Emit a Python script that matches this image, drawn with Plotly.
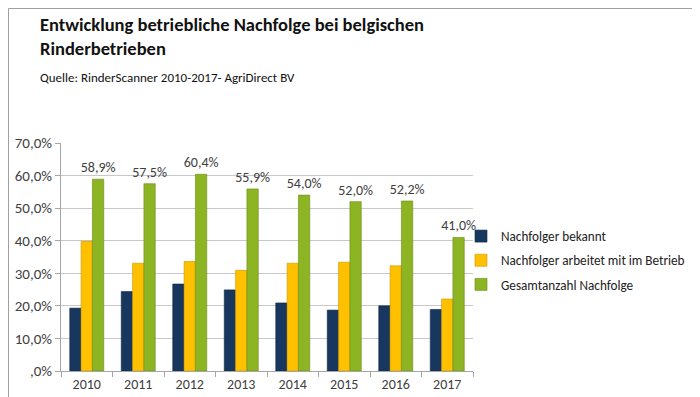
import plotly.graph_objects as go

years = ["2010", "2011", "2012", "2013", "2014", "2015", "2016", "2017"]
bekannt = [19.3, 24.4, 26.7, 24.9, 20.9, 18.7, 20.0, 18.9]
arbeitet = [39.8, 33.1, 33.6, 30.9, 33.1, 33.4, 32.3, 22.1]
gesamt = [58.9, 57.5, 60.4, 55.9, 54.0, 52.0, 52.2, 41.0]
names = ["Nachfolger bekannt", "Nachfolger arbeitet mit im Betrieb", "Gesamtanzahl Nachfolge"]
tick_vals = [0, 10, 20, 30, 40, 50, 60, 70]
tick_text = [",0%", "10,0%", "20,0%", "30,0%", "40,0%", "50,0%", "60,0%", "70,0%"]

FONT = "Carlito, Calibri, sans-serif"
W, H = 700, 397
L, R, T, B = 53, 235, 135, 34
PW, PH = W - L - R, H - T - B

fig = go.Figure()
fig.add_bar(x=years, y=bekannt, name=names[0], legendgroup="a",
            marker=dict(color="#17375E", line=dict(color="#0F2745", width=0.6)))
fig.add_bar(x=years, y=arbeitet, name=names[1], legendgroup="b",
            marker=dict(color="#FFC000", line=dict(color="#C99700", width=0.6)))
fig.add_bar(x=years, y=gesamt, name=names[2], legendgroup="c",
            marker=dict(color="#8DB523", line=dict(color="#6A8A15", width=0.6)),
            text=gesamt, texttemplate="%{y:.1f}%", textposition="outside",
            constraintext="none",
            textfont=dict(size=14, color="#404040", family=FONT), cliponaxis=False)

fig.update_layout(
    width=W, height=H,
    margin=dict(l=L, r=R, t=T, b=B, autoexpand=False),
    paper_bgcolor="white", plot_bgcolor="white",
    separators=",.",
    barmode="group", bargap=0.34, bargroupgap=0,
    font=dict(family=FONT, color="#404040", size=14),
    showlegend=True,
    legend=dict(x=(453 - L) / PW, y=(H - B - 213) / PH, xanchor="left", yanchor="top",
                tracegroupgap=4, traceorder="grouped",
                font=dict(size=13.2, color="#222222", family=FONT),
                itemwidth=30, bgcolor="rgba(0,0,0,0)"),
    xaxis=dict(type="category", showline=True, linecolor="#A6A6A6", linewidth=1,
               ticks="outside", tickson="boundaries", ticklen=5, tickcolor="#A6A6A6",
               tickfont=dict(size=14, color="#404040"), showgrid=False),
    yaxis=dict(range=[0, 70], tickvals=tick_vals, ticktext=tick_text,
               showline=True, linecolor="#A6A6A6", linewidth=1,
               ticks="outside", ticklen=5, tickcolor="#A6A6A6",
               showgrid=True, gridcolor="#C8C8C8", gridwidth=1,
               tickfont=dict(size=15, color="#404040"), zeroline=False),
    shapes=[dict(type="rect", xref="paper", yref="paper",
                 x0=-(L - 0.5) / PW, x1=(W - L - 1.5) / PW,
                 y0=-(B - 3.5) / PH, y1=(H - B - 0.5) / PH,
                 line=dict(color="#A0A0A0", width=1))],
)

fig.add_annotation(text="<b>Entwicklung betriebliche Nachfolge bei belgischen<br>Rinderbetrieben</b>",
                   xref="paper", yref="paper", x=(30 - L) / PW, y=(H - B - 3) / PH,
                   xanchor="left", yanchor="top", align="left", showarrow=False,
                   font=dict(size=18.5, color="#111111", family=FONT))
fig.add_annotation(text="Quelle: RinderScanner 2010-2017- AgriDirect BV",
                   xref="paper", yref="paper", x=(30 - L) / PW, y=(H - B - 70) / PH,
                   xanchor="left", yanchor="middle", align="left", showarrow=False,
                   font=dict(size=13, color="#111111", family=FONT))

fig.write_html("out.html")
